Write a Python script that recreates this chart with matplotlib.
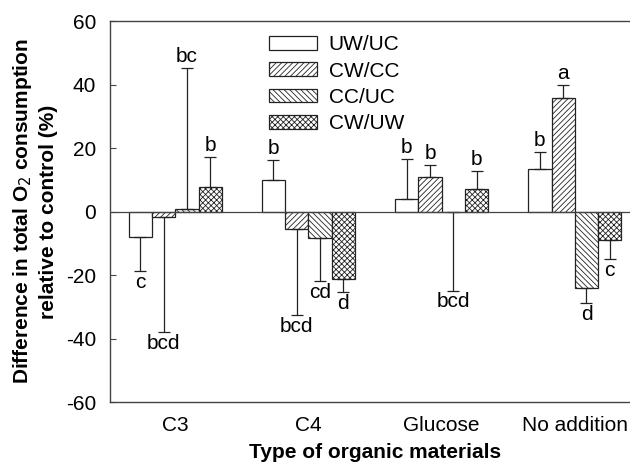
import numpy as np
import matplotlib.pyplot as plt

plt.rcParams['font.family'] = ['Liberation Sans', 'DejaVu Sans']
plt.rcParams['hatch.linewidth'] = 0.6

categories = ['C3', 'C4', 'Glucose', 'No addition']
series = ['UW/UC', 'CW/CC', 'CC/UC', 'CW/UW']

# mean difference (%) per category, one list per series
uw_uc = [-7.9, 9.8, 3.9, 13.5]
cw_cc = [-1.6, -5.5, 11.0, 35.8]
cc_uc = [0.8, -8.4, -0.1, -24.0]
cw_uw = [7.8, -21.3, 7.0, -9.1]

# one-sided error lengths
uw_uc_err = [10.8, 6.5, 12.7, 5.2]
cw_cc_err = [36.3, 27.0, 3.8, 4.0]
cc_uc_err = [44.4, 13.6, 24.8, 4.7]
cw_uw_err = [9.3, 4.1, 5.9, 5.9]

uw_uc_let = ['c', 'b', 'b', 'b']
cw_cc_let = ['bcd', 'bcd', 'b', 'a']
cc_uc_let = ['bc', 'cd', 'bcd', 'd']
cw_uw_let = ['b', 'd', 'b', 'c']

values = [uw_uc, cw_cc, cc_uc, cw_uw]
errors = [uw_uc_err, cw_cc_err, cc_uc_err, cw_uw_err]
letters = [uw_uc_let, cw_cc_let, cc_uc_let, cw_uw_let]
hatches = ['', '//////', '\\\\\\\\\\\\', 'xxxxxx']

fs = 15

fig = plt.figure(figsize=(6.3, 4.68), dpi=100)
ax = fig.add_axes([0.1746, 0.141, 0.8414, 0.814])

ind = np.arange(len(categories))
w = 0.175
for i in range(4):
    x = ind + (i - 1.5) * w
    v = np.array(values[i])
    e = np.array(errors[i])
    ax.bar(x, v, w, color='white', edgecolor='#222222', linewidth=0.9,
           hatch=hatches[i], label=series[i])
    lower = np.where(v < 0, e, 0)
    upper = np.where(v >= 0, e, 0)
    ax.errorbar(x, v, yerr=[lower, upper], fmt='none', ecolor='#222222',
                elinewidth=0.9, capsize=4.5, capthick=0.9)
    for xi, vi, ei, lab in zip(x, v, e, letters[i]):
        if vi >= 0:
            ax.text(xi, vi + ei + 0.6, lab, ha='center', va='bottom', fontsize=fs)
        else:
            ax.text(xi, vi - ei - 0.6, lab, ha='center', va='top', fontsize=fs)

ax.axhline(0, color='#444444', linewidth=0.9)
ax.set_xlim(-0.49, 3.49)
ax.set_ylim(-60, 60)
ax.set_yticks([-60, -40, -20, 0, 20, 40, 60])
ax.set_yticklabels(['-60', '-40', '-20', '0', '20', '40', '60'])
ax.set_xticks(ind)
ax.set_xticklabels(categories)
ax.tick_params(axis='x', length=0, labelsize=fs, pad=10)
ax.tick_params(axis='y', direction='in', length=4, width=0.8, color='#444444',
               labelsize=fs, pad=10)
ax.spines['right'].set_visible(False)
for s in ['left', 'top', 'bottom']:
    ax.spines[s].set_color('#444444')
    ax.spines[s].set_linewidth(1.0)

ax.set_xlabel('Type of organic materials', fontsize=fs, fontweight='bold', labelpad=6)
ax.set_ylabel('Difference in total O$_2$ consumption\nrelative to control (%)',
              fontsize=fs, fontweight='bold', labelpad=6, linespacing=1.3)

ax.legend(loc='upper left', bbox_to_anchor=(0.265, 1.012), frameon=False,
          fontsize=fs, handlelength=2.3, handleheight=0.62, labelspacing=0.35,
          handletextpad=0.55)

fig.savefig('out.png', dpi=100)
